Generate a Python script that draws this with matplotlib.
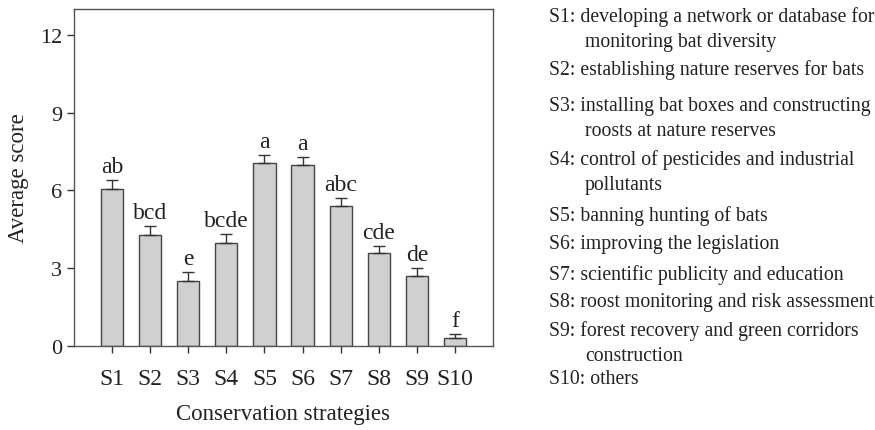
import matplotlib
matplotlib.use('Agg')
import matplotlib.pyplot as plt

# ── Data ───────────────────────────────────────────────────────────────────
strategies = ["S1", "S2", "S3", "S4", "S5", "S6", "S7", "S8", "S9", "S10"]
scores     = [6.06, 4.28, 2.52, 3.97, 7.06, 6.98, 5.40, 3.59, 2.70, 0.31]
errors     = [0.35, 0.35, 0.33, 0.35, 0.31, 0.31, 0.31, 0.27, 0.31, 0.15]
letters    = ["ab", "bcd", "e", "bcde", "a", "a", "abc", "cde", "de", "f"]
y_ticks    = [0, 3, 6, 9, 12]

descriptions = [
    ("S1: developing a network or database for", "monitoring bat diversity"),
    ("S2: establishing nature reserves for bats", None),
    ("S3: installing bat boxes and constructing", "roosts at nature reserves"),
    ("S4: control of pesticides and industrial", "pollutants"),
    ("S5: banning hunting of bats", None),
    ("S6: improving the legislation", None),
    ("S7: scientific publicity and education", None),
    ("S8: roost monitoring and risk assessment", None),
    ("S9: forest recovery and green corridors", "construction"),
    ("S10: others", None),
]

FONT = "Liberation Serif"
INK = "#333333"
TXT = "#222222"
plt.rcParams['font.family'] = FONT

fig = plt.figure(figsize=(8.75, 4.31), dpi=100)
ax = fig.add_axes([74 / 875, 1 - 347 / 431, (493 - 74) / 875, (347 - 10) / 431])

x = list(range(len(strategies)))
ax.bar(x, scores, width=0.58, color="#d0d0d0", edgecolor="#444444", linewidth=1.0,
       yerr=[[0] * len(errors), errors],
       error_kw=dict(ecolor="#333333", elinewidth=1.0, capsize=4, capthick=1.0),
       zorder=2)

for xi, s, e, lab in zip(x, scores, errors, letters):
    ax.text(xi, s + e + 0.12, lab, ha='center', va='bottom', fontsize=17, color=TXT)

ax.set_xlim(-1, 10)
ax.set_ylim(0, 13.0)
ax.set_yticks(y_ticks)
ax.set_xticks(x)
ax.set_xticklabels(strategies)
ax.tick_params(axis='both', direction='out', length=5, width=1, colors=INK,
               labelcolor=TXT)
ax.tick_params(axis='y', labelsize=16)
ax.tick_params(axis='x', labelsize=17, pad=11)
for sp in ax.spines.values():
    sp.set_color("#555555")
    sp.set_linewidth(1.0)

ax.set_ylabel("Average score", fontsize=16.5, color=TXT, labelpad=8)
ax.set_xlabel("Conservation strategies", fontsize=16.5, color=TXT, labelpad=10)

# ── Strategy descriptions on the right ─────────────────────────────────────
line_y = [17, 70, 106, 160, 216, 245, 275, 303, 331, 380]
for (first, second), y in zip(descriptions, line_y):
    fig.text(549 / 875, 1 - y / 431, first, ha='left', va='center',
             fontsize=14.2, color=TXT)
    if second:
        fig.text(585 / 875, 1 - (y + 26) / 431, second, ha='left', va='center',
                 fontsize=14.2, color=TXT)

fig.savefig("out.png", dpi=100, facecolor="white")
